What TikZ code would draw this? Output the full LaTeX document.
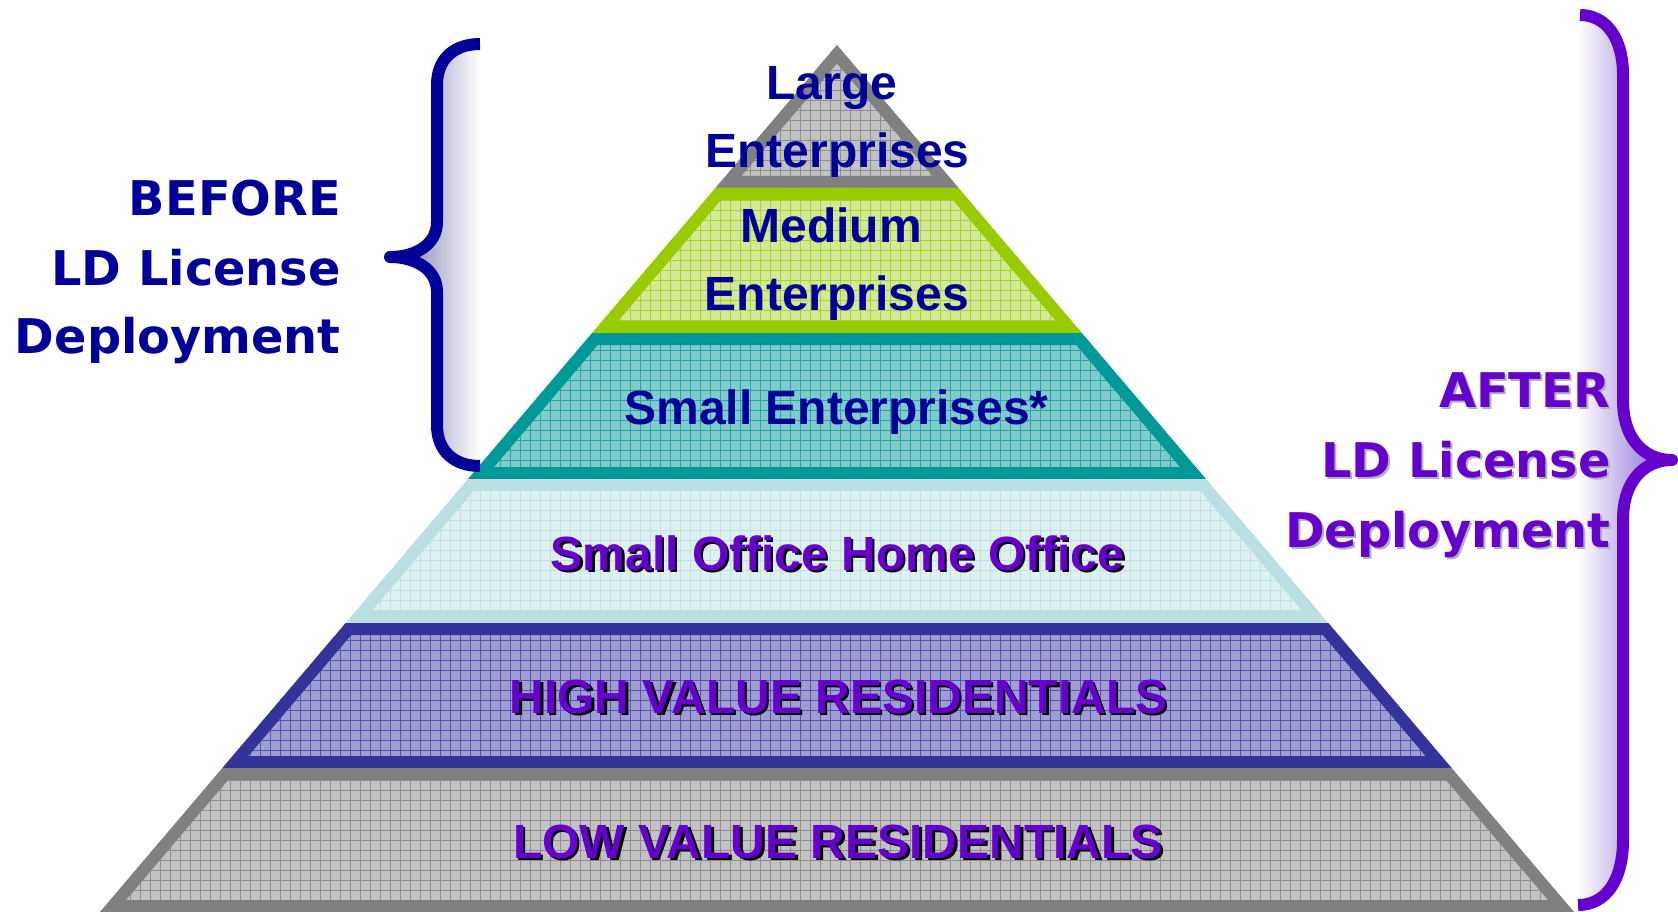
\documentclass[tikz,border=0pt]{standalone}
\usepackage{fontspec}
\newfontfamily\pyrfont{Liberation Sans}
\newfontfamily\sidefont{DejaVu Sans}
\definecolor{dblue}{HTML}{000099}
\definecolor{purp}{HTML}{6600CC}
\definecolor{grayB}{HTML}{808080}
\definecolor{grayF}{HTML}{C2C2C2}
\definecolor{grayG}{HTML}{8E8E8E}
\definecolor{greenB}{HTML}{99CC00}
\definecolor{greenF}{HTML}{D3E995}
\definecolor{greenG}{HTML}{A9D334}
\definecolor{tealB}{HTML}{009999}
\definecolor{tealF}{HTML}{80CCCC}
\definecolor{tealG}{HTML}{2CA4A4}
\definecolor{cyanB}{HTML}{BBE0E3}
\definecolor{cyanF}{HTML}{DFF0F1}
\definecolor{cyanG}{HTML}{BEE1E4}
\definecolor{blueB}{HTML}{333399}
\definecolor{blueF}{HTML}{9E9ED2}
\definecolor{blueG}{HTML}{5656AE}
\newcommand\pyrlayer[4]{%
  \begin{scope}
    \clip #1;
    \fill[#2] #1;
    \draw[#3, line width=0.9pt, step=10pt] (0,0) grid (1678,912);
    \draw[#4, line width=24pt] #1;
  \end{scope}}
\tikzset{
  pyrtext/.style={font=\pyrfont\bfseries\fontsize{48}{56}\selectfont, anchor=base, inner sep=0pt},
  sidetext/.style={font=\sidefont\bfseries\fontsize{47.8}{56}\selectfont, anchor=base east, inner sep=0pt},
  bracestroke/.style={line width=12pt, line join=round}
}
\begin{document}
\begin{tikzpicture}[x=1pt,y=-1pt]
\useasboundingbox (0,0) rectangle (1678,912);
\fill[white] (0,0) rectangle (1678,912);

% pyramid layers
\pyrlayer{(837,45) -- (958.55,188) -- (715.45,188) -- cycle}{grayF}{grayG}{grayB}
\pyrlayer{(715.45,188) -- (958.55,188) -- (1081.8,333) -- (592.2,333) -- cycle}{greenF}{greenG}{greenB}
\pyrlayer{(592.2,333) -- (1081.8,333) -- (1205.9,479) -- (468.1,479) -- cycle}{tealF}{tealG}{tealB}
\pyrlayer{(468.1,479) -- (1205.9,479) -- (1328.3,623) -- (345.7,623) -- cycle}{cyanF}{cyanG}{cyanB}
\pyrlayer{(345.7,623) -- (1328.3,623) -- (1451.55,768) -- (222.45,768) -- cycle}{blueF}{blueG}{blueB}
\pyrlayer{(222.45,768) -- (1451.55,768) -- (1573.95,912) -- (100.05,912) -- cycle}{grayF}{grayG}{grayB}

% pyramid texts
\node[pyrtext, dblue] (large1) at (832,100) {Large};
\node[pyrtext, dblue] (large2) at (837.5,168) {Enterprises};
\node[pyrtext, dblue] (med1) at (831,243) {Medium};
\node[pyrtext, dblue] (med2) at (837,310) {Enterprises};
\node[pyrtext, dblue] (small) at (836.5,424) {Small Enterprises*};
\node[pyrtext, black] (sohoS) at (840,572.5) {Small Office Home Office};
\node[pyrtext, purp] (soho) at (837.5,570) {Small Office Home Office};
\node[pyrtext, black] (highS) at (841,715.5) {HIGH VALUE RESIDENTIALS};
\node[pyrtext, purp] (high) at (838.5,713) {HIGH VALUE RESIDENTIALS};
\node[pyrtext, black] (lowS) at (840.5,860.5) {LOW VALUE RESIDENTIALS};
\node[pyrtext, purp] (low) at (838,858) {LOW VALUE RESIDENTIALS};

% left brace (BEFORE)
\begin{scope}
  \clip (480,44) .. controls (455,44) and (437,58) .. (437,85) -- (437,222)
        .. controls (437,245) and (415,257) .. (390,257)
        .. controls (415,257) and (437,269) .. (437,292) -- (437,425)
        .. controls (437,452) and (455,466) .. (480,466) -- cycle;
  \shade[left color={rgb,255:red,112;green,112;blue,168}, right color=white] (390,40) rectangle (480,470);
\end{scope}
\draw[bracestroke, dblue] (480,44) .. controls (455,44) and (437,58) .. (437,85) -- (437,222)
        .. controls (437,245) and (415,257) .. (390,257)
        .. controls (415,257) and (437,269) .. (437,292) -- (437,425)
        .. controls (437,452) and (455,466) .. (480,466);

% right brace (AFTER)
\begin{scope}
  \clip (1580,15) .. controls (1606,15) and (1623,38) .. (1623,75) -- (1623,400)
        .. controls (1623,440) and (1645,460) .. (1672,460)
        .. controls (1645,460) and (1623,480) .. (1623,520) -- (1623,840)
        .. controls (1623,880) and (1606,905) .. (1578,905) -- cycle;
  \shade[left color=white, right color={rgb,255:red,128;green,96;blue,208}] (1578,10) rectangle (1672,912);
\end{scope}
\draw[bracestroke, purp] (1580,15) .. controls (1606,15) and (1623,38) .. (1623,75) -- (1623,400)
        .. controls (1623,440) and (1645,460) .. (1672,460)
        .. controls (1645,460) and (1623,480) .. (1623,520) -- (1623,840)
        .. controls (1623,880) and (1606,905) .. (1578,905);

% side labels
\node[sidetext, dblue] (bef1) at (341,215) {BEFORE};
\node[sidetext, dblue] (bef2) at (341,285) {LD License};
\node[sidetext, dblue] (bef3) at (341,353) {Deployment};

\node[sidetext, black!30] (aft1S) at (1613,409) {AFTER};
\node[sidetext, black!30] (aft2S) at (1613,479) {LD License};
\node[sidetext, black!30] (aft3S) at (1613,549) {Deployment};
\node[sidetext, purp] (aft1) at (1611,407) {AFTER};
\node[sidetext, purp] (aft2) at (1611,477) {LD License};
\node[sidetext, purp] (aft3) at (1611,547) {Deployment};
\end{tikzpicture}
\end{document}
